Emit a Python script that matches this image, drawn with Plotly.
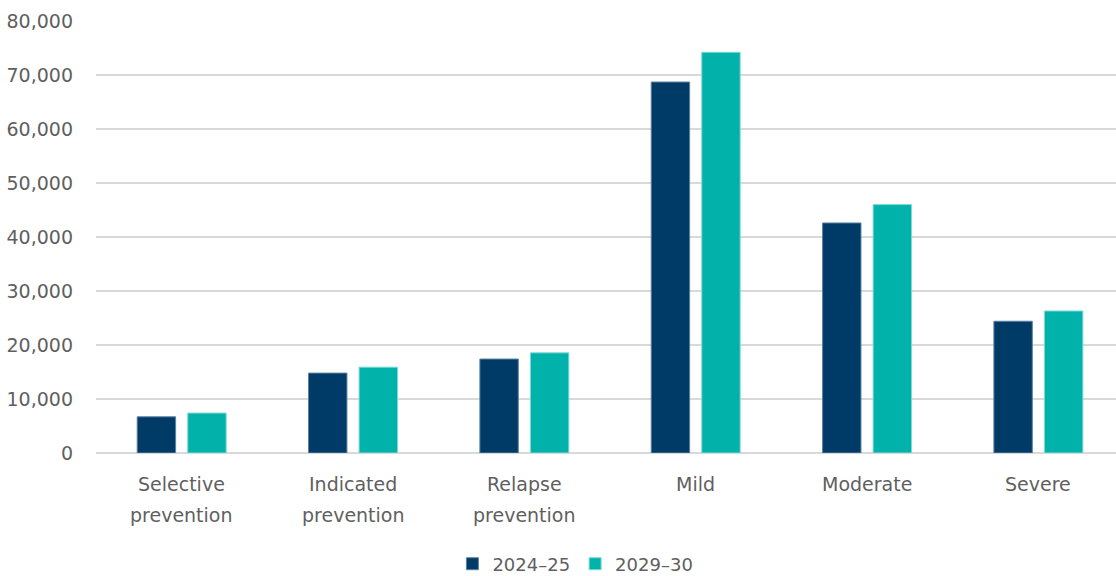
import plotly.graph_objects as go

# Service categories and the two projection years
categories = ["Selective prevention", "Indicated prevention", "Relapse prevention",
              "Mild", "Moderate", "Severe"]
label_lines = [["Selective", "prevention"], ["Indicated", "prevention"],
               ["Relapse", "prevention"], ["Mild"], ["Moderate"], ["Severe"]]
years = ["2024\u201325", "2029\u201330"]
values_2024 = [6700, 14800, 17400, 68700, 42600, 24400]
values_2029 = [7400, 15900, 18550, 74200, 46000, 26300]
y_ticks = [0, 10000, 20000, 30000, 40000, 50000, 60000, 70000, 80000]

navy = "#003B67"
teal = "#00B2AA"
grey_text = "#5f5f5f"
font_family = "DejaVu Sans, sans-serif"
font_size = 19

fig = go.Figure()
fig.add_trace(go.Bar(x=categories, y=values_2024, name=years[0],
                     marker=dict(color=navy, line=dict(color="#5b81a3", width=1))))
fig.add_trace(go.Bar(x=categories, y=values_2029, name=years[1],
                     marker=dict(color=teal, line=dict(color="#7fdad4", width=1))))

# Category labels drawn as separate lines for wider line spacing
annotations = []
for cat, lines in zip(categories, label_lines):
    for i, line in enumerate(lines):
        annotations.append(dict(x=cat, xref="x", y=-0.072 - i * 0.072, yref="paper",
                                text=line, showarrow=False, yanchor="middle",
                                font=dict(size=font_size, color=grey_text, family=font_family)))

fig.update_layout(
    width=1116, height=576,
    margin=dict(l=96, r=0, t=21, b=123, autoexpand=False),
    paper_bgcolor="white", plot_bgcolor="white",
    barmode="group", bargap=0.41, bargroupgap=0.24,
    font=dict(family=font_family, size=font_size, color=grey_text),
    showlegend=True,
    legend=dict(orientation="h", x=0.47, xanchor="center", y=-0.257, yanchor="middle",
                font=dict(size=18, color=grey_text), itemwidth=30, traceorder="normal",
                tracegroupgap=0),
    annotations=annotations,
)
# the category band runs a little past the right edge of the canvas
fig.update_xaxes(range=[-0.5, 5.453], showticklabels=False, showline=False,
                 showgrid=False, ticks="")
fig.update_yaxes(range=[0, 80000], tickvals=y_ticks, tickformat=",",
                 showgrid=True, gridcolor="#d9d9d9", gridwidth=1.5,
                 zeroline=True, zerolinecolor="#d9d9d9", zerolinewidth=1.5,
                 showline=False, ticks="", ticklabelstandoff=22,
                 tickfont=dict(size=font_size, color=grey_text))

fig.write_html("out.html")
